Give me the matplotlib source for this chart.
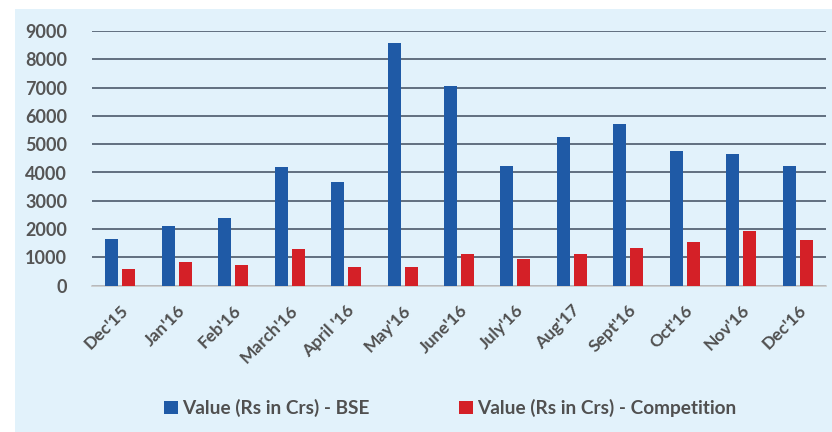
import numpy as np
import matplotlib
matplotlib.use('Agg')
import matplotlib.pyplot as plt
from matplotlib.patches import Rectangle

# Monthly turnover values (Rs in Crs)
months = ["Dec'15", "Jan'16", "Feb'16", "March'16", "April '16", "May'16", "June'16",
          "July'16", "Aug'17", "Sept'16", "Oct'16", "Nov'16", "Dec'16"]
bse = [1640, 2110, 2400, 4200, 3675, 8565, 7057, 4240, 5265, 5714, 4770, 4643, 4230]
competition = [580, 850, 730, 1310, 670, 670, 1120, 943, 1120, 1343, 1533, 1943, 1625]
yticks = [0, 1000, 2000, 3000, 4000, 5000, 6000, 7000, 8000, 9000]

plt.rcParams['font.family'] = ['Lato', 'DejaVu Sans']

fig = plt.figure(figsize=(8.32, 4.32), dpi=100)
fig.patch.set_facecolor('white')
# light blue panel behind the chart
fig.patches.append(Rectangle((15 / 832, 0), 1, 1 - 9 / 432, transform=fig.transFigure,
                             facecolor='#e2f2fb', edgecolor='none', zorder=-5))

ax = fig.add_axes([92 / 832, 1 - 285.7 / 432, 734 / 832, 254.7 / 432])
ax.set_facecolor('none')
ax.set_zorder(2)

x = np.arange(len(months))
w = 0.23
ax.bar(x - 0.15, bse, w, color='#1f5aa6', zorder=3, label='Value (Rs in Crs) - BSE')
ax.bar(x + 0.15, competition, w, color='#d42027', zorder=3, label='Value (Rs in Crs) - Competition')

ax.set_ylim(0, 9000)
ax.set_xlim(-0.5, len(months) - 0.5)
ax.set_yticks(yticks)
ax.set_yticklabels([str(v) for v in yticks], fontsize=13, fontweight='bold', color='#555555')
ax.yaxis.grid(True, color='#3e4c5e', linewidth=1.1, zorder=0)
ax.set_axisbelow(True)

ax.set_xticks(x)
ax.set_xticklabels(months, rotation=45, ha='right', rotation_mode='anchor',
                   fontsize=12.5, fontweight='bold', color='#505050')
ax.tick_params(axis='both', length=0)
ax.tick_params(axis='x', pad=12)
ax.tick_params(axis='y', pad=18)

for s in ['top', 'right', 'left']:
    ax.spines[s].set_visible(False)
ax.spines['bottom'].set_color('#c8c8c8')
ax.spines['bottom'].set_linewidth(1.2)

fig.legend(loc='center', bbox_to_anchor=(450 / 832, 1 - 408 / 432), ncol=2, frameon=False,
           handlelength=0.74, handleheight=0.7, handletextpad=0.2, columnspacing=4.7,
           prop={'size': 13.7, 'weight': 'bold'}, labelcolor='#505050')

fig.savefig('out.png', dpi=100, facecolor='white')
